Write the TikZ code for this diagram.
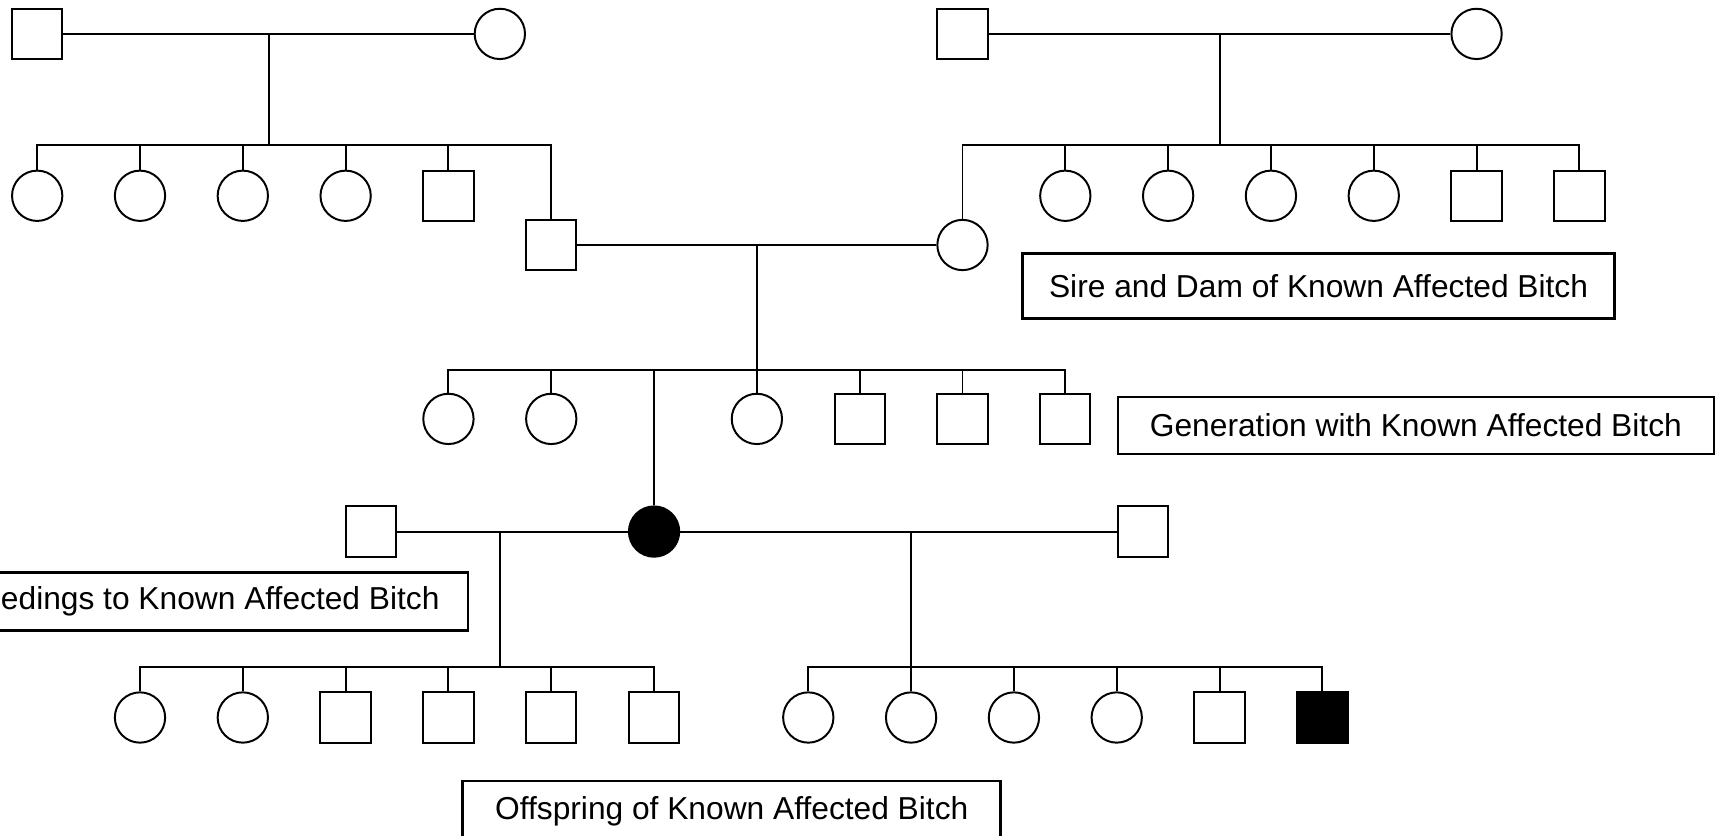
\documentclass[tikz,border=0pt]{standalone}
\usepackage{fontspec}
\setmainfont{Liberation Sans}
\begin{document}
\begin{tikzpicture}[x=0.5pt,y=-0.5pt,
  line width=0.9pt,
  male/.style={rectangle,draw,minimum size=23pt,inner sep=0pt},
  female/.style={circle,draw,minimum size=23pt,inner sep=0pt},
  affected/.style={fill=black},
  lab/.style={rectangle,draw,line width=1.2pt,inner sep=0pt,font=\fontsize{14.5}{17}\selectfont}]
\useasboundingbox (0,0) rectangle (1568,764.3);
\clip (0,0) rectangle (1568,764.3);
% grandparents left
\node[male] (gpm1) at (34,31) {};
\node[female] (gpf1) at (457,31) {};
\coordinate (u1) at (246,31);
\coordinate (s1) at (246,133);
\draw (gpm1) -- (gpf1);
\draw (u1) -- (s1);
\node[female] (a1) at (34,179) {};
\node[female] (a2) at (128,179) {};
\node[female] (a3) at (222,179) {};
\node[female] (a4) at (316,179) {};
\node[male] (a5) at (410,179) {};
\node[male] (sire) at (504,224) {};
\foreach \n in {a1,a2,a3,a4,a5,sire} \draw (\n.north) |- (s1);
% grandparents right
\node[male] (gpm2) at (880,31) {};
\node[female] (gpf2) at (1350,31) {};
\coordinate (u2) at (1115,31);
\coordinate (s2) at (1115,133);
\draw (gpm2) -- (gpf2);
\draw (u2) -- (s2);
\node[female] (dam) at (880,224) {};
\node[female] (b1) at (974,179) {};
\node[female] (b2) at (1068,179) {};
\node[female] (b3) at (1162,179) {};
\node[female] (b4) at (1256,179) {};
\node[male] (b5) at (1350,179) {};
\node[male] (b6) at (1444,179) {};
\foreach \n in {dam,b1,b2,b3,b4,b5,b6} \draw (\n.north) |- (s2);
% sire and dam
\coordinate (u3) at (692,224);
\coordinate (s3) at (692,338);
\draw (sire) -- (dam);
\draw (u3) -- (s3);
\node[female] (c1) at (410,383) {};
\node[female] (c2) at (504,383) {};
\node[female,affected] (bitch) at (598,486) {};
\node[female] (c4) at (692,383) {};
\node[male] (c5) at (786,383) {};
\node[male] (c6) at (880,383) {};
\node[male] (c7) at (974,383) {};
\foreach \n in {c1,c2,bitch,c4,c5,c6,c7} \draw (\n.north) |- (s3);
% breedings
\node[male] (mate1) at (339,486) {};
\node[male] (mate2) at (1045,486) {};
\draw (mate1) -- (bitch);
\draw (bitch) -- (mate2);
\coordinate (u4) at (457,486);
\coordinate (s4) at (457,610);
\coordinate (u5) at (833,486);
\coordinate (s5) at (833,610);
\draw (u4) -- (s4);
\draw (u5) -- (s5);
% offspring left
\node[female] (d1) at (128,656) {};
\node[female] (d2) at (222,656) {};
\node[male] (d3) at (316,656) {};
\node[male] (d4) at (410,656) {};
\node[male] (d5) at (504,656) {};
\node[male] (d6) at (598,656) {};
\foreach \n in {d1,d2,d3,d4,d5,d6} \draw (\n.north) |- (s4);
% offspring right
\node[female] (e1) at (739,656) {};
\node[female] (e2) at (833,656) {};
\node[female] (e3) at (927,656) {};
\node[female] (e4) at (1021,656) {};
\node[male] (e5) at (1115,656) {};
\node[male,affected] (e6) at (1209,656) {};
\foreach \n in {e1,e2,e3,e4,e5,e6} \draw (\n.north) |- (s5);
% labels
\node[lab,minimum width=270.5pt,minimum height=29.5pt] (l1) at (1205.5,261.5) {Sire and Dam of Known Affected Bitch};
\node[lab,minimum width=272.5pt,minimum height=26pt] (l2) at (1294.5,389) {Generation with Known Affected Bitch};
\node[lab,minimum height=26.5pt,inner xsep=13pt,anchor=east] (l3) at (429,550) {Breedings to Known Affected Bitch};
\node[lab,minimum width=246pt,minimum height=28pt] (l4) at (669,742) {Offspring of Known Affected Bitch};
\end{tikzpicture}
\end{document}
